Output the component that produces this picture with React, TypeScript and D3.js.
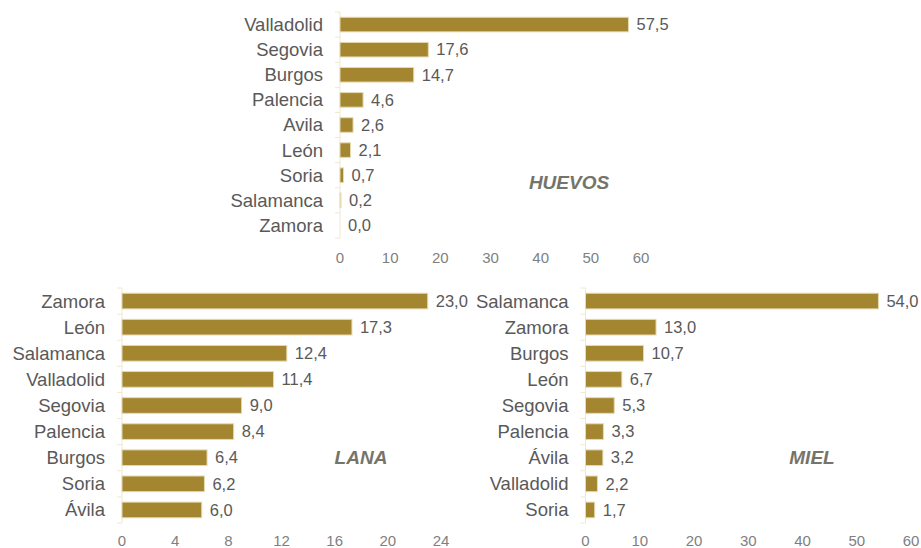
import React, { useEffect, useRef } from "react";
import * as d3 from "d3";

const huevosCats = ["Valladolid", "Segovia", "Burgos", "Palencia", "Avila", "León", "Soria", "Salamanca", "Zamora"];
const huevosVals = [57.5, 17.6, 14.7, 4.6, 2.6, 2.1, 0.7, 0.2, 0.0];
const huevosTicks = [0, 10, 20, 30, 40, 50, 60];

const lanaCats = ["Zamora", "León", "Salamanca", "Valladolid", "Segovia", "Palencia", "Burgos", "Soria", "Ávila"];
const lanaVals = [23.0, 17.3, 12.4, 11.4, 9.0, 8.4, 6.4, 6.2, 6.0];
const lanaTicks = [0, 4, 8, 12, 16, 20, 24];

const mielCats = ["Salamanca", "Zamora", "Burgos", "León", "Segovia", "Palencia", "Ávila", "Valladolid", "Soria"];
const mielVals = [54.0, 13.0, 10.7, 6.7, 5.3, 3.3, 3.2, 2.2, 1.7];
const mielTicks = [0, 10, 20, 30, 40, 50, 60];

const BAR = "#A3862F";
const BAR_STROKE = "#E6DAB0";
const AXIS = "#EFE8D2";
const TXT = "#595959";
const TICK_TXT = "#7F7F7F";
const TITLE = "#74746A";
const FONT = "'Liberation Sans', Arial, sans-serif";

type Panel = {
  cats: string[];
  vals: number[];
  ticks: number[];
  x0: number;
  x1: number;
  y0: number;
  y1: number;
  tickY: number;
  title: string;
  titleX: number;
  titleY: number;
  padInner: number;
};

const fmt = (v: number) => v.toFixed(1).replace(".", ",");

function drawPanel(g: d3.Selection<SVGGElement, unknown, null, undefined>, p: Panel) {
  const x = d3.scaleLinear().domain([p.ticks[0], p.ticks[p.ticks.length - 1]]).range([p.x0, p.x1]);
  const y = d3
    .scaleBand<string>()
    .domain(p.cats)
    .range([p.y0, p.y1])
    .paddingInner(p.padInner)
    .paddingOuter(p.padInner / 2);

  g.append("line")
    .attr("x1", x(0)).attr("x2", x(0))
    .attr("y1", p.y0).attr("y2", p.y1)
    .attr("stroke", AXIS).attr("stroke-width", 1);

  const step = y.step();
  const bounds = d3.range(p.cats.length + 1).map((i) => p.y0 + i * step);
  g.selectAll("line.tm")
    .data(bounds)
    .enter()
    .append("line")
    .attr("x1", x(0) - 5).attr("x2", x(0))
    .attr("y1", (d) => d).attr("y2", (d) => d)
    .attr("stroke", AXIS).attr("stroke-width", 1);

  g.selectAll("rect.bar")
    .data(p.vals)
    .enter()
    .append("rect")
    .attr("x", x(0))
    .attr("y", (_, i) => y(p.cats[i])!)
    .attr("width", (d) => Math.max(0, x(d) - x(0)))
    .attr("height", y.bandwidth())
    .attr("fill", BAR)
    .attr("stroke", (d) => (d > 0 ? BAR_STROKE : "none"))
    .attr("stroke-width", 1);

  g.selectAll("text.cat")
    .data(p.cats)
    .enter()
    .append("text")
    .attr("x", x(0) - 17)
    .attr("y", (d) => y(d)! + y.bandwidth() / 2)
    .attr("dy", "0.35em")
    .attr("text-anchor", "end")
    .attr("font-size", 18.5)
    .attr("font-family", FONT)
    .attr("fill", TXT)
    .text((d) => d);

  g.selectAll("text.val")
    .data(p.vals)
    .enter()
    .append("text")
    .attr("x", (d) => x(d) + 8)
    .attr("y", (_, i) => y(p.cats[i])! + y.bandwidth() / 2)
    .attr("dy", "0.35em")
    .attr("font-size", 16.5)
    .attr("font-family", FONT)
    .attr("fill", TXT)
    .text((d) => fmt(d));

  g.selectAll("text.tick")
    .data(p.ticks)
    .enter()
    .append("text")
    .attr("x", (d) => x(d))
    .attr("y", p.tickY)
    .attr("dy", "0.35em")
    .attr("text-anchor", "middle")
    .attr("font-size", 15)
    .attr("font-family", FONT)
    .attr("fill", TICK_TXT)
    .text((d) => String(d));

  g.append("text")
    .attr("x", p.titleX)
    .attr("y", p.titleY)
    .attr("dy", "0.35em")
    .attr("text-anchor", "middle")
    .attr("font-size", 19)
    .attr("font-weight", "bold")
    .attr("font-style", "italic")
    .attr("font-family", FONT)
    .attr("fill", TITLE)
    .text(p.title);
}

export default function App() {
  const ref = useRef<SVGSVGElement>(null);
  useEffect(() => {
    const svg = d3.select(ref.current!);
    svg.selectAll("*").remove();
    const panels: Panel[] = [
      {
        cats: huevosCats, vals: huevosVals, ticks: huevosTicks,
        x0: 340, x1: 641, y0: 12, y1: 238, tickY: 258,
        title: "HUEVOS", titleX: 569, titleY: 182, padInner: 0.42,
      },
      {
        cats: lanaCats, vals: lanaVals, ticks: lanaTicks,
        x0: 122, x1: 441, y0: 288, y1: 523, tickY: 541,
        title: "LANA", titleX: 361, titleY: 457, padInner: 0.4,
      },
      {
        cats: mielCats, vals: mielVals, ticks: mielTicks,
        x0: 585.5, x1: 911, y0: 288, y1: 523, tickY: 541,
        title: "MIEL", titleX: 812, titleY: 457, padInner: 0.4,
      },
    ];
    panels.forEach((p) => drawPanel(svg.append("g"), p));
  }, []);
  return (
    <svg
      ref={ref}
      width={921}
      height={548}
      style={{ position: "absolute", left: 0, top: 0, background: "#fff" }}
    />
  );
}
